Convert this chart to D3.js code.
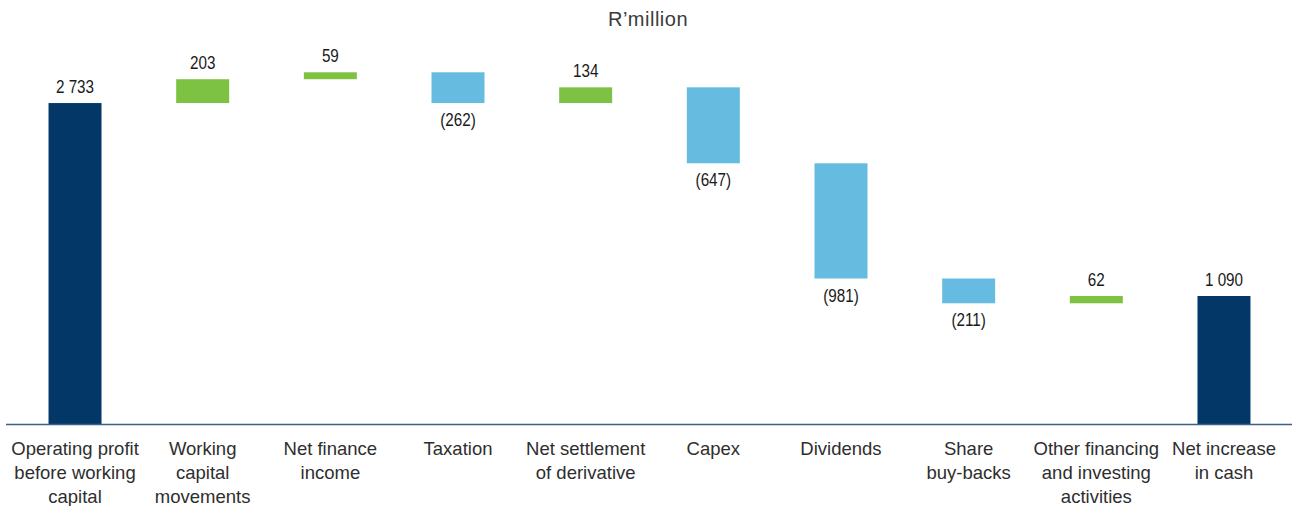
<!DOCTYPE html>
<html>
<head>
<meta charset="utf-8">
<script src="https://cdn.jsdelivr.net/npm/d3@7"></script>
<style>
  body { margin: 0; background: #fff; }
  .val { font-family: "Liberation Sans", Arial, sans-serif; font-size: 17.5px; fill: #1a1a1a; }
  .cat { font-family: "Liberation Sans", Arial, sans-serif; font-size: 18.5px; fill: #2e2e2e; }
</style>
</head>
<body>
<div id="chart"></div>
<script>
// waterfall data, R'million
const categories = [
  ['Operating profit', 'before working', 'capital'],
  ['Working', 'capital', 'movements'],
  ['Net finance', 'income'],
  ['Taxation'],
  ['Net settlement', 'of derivative'],
  ['Capex'],
  ['Dividends'],
  ['Share', 'buy-backs'],
  ['Other financing', 'and investing', 'activities'],
  ['Net increase', 'in cash']
];
const values = [2733, 203, 59, -262, 134, -647, -981, -211, 62, 1090];
const kinds = ['total', 'step', 'step', 'step', 'step', 'step', 'step', 'step', 'step', 'total'];
const valueLabels = ['2 733', '203', '59', '(262)', '134', '(647)', '(981)', '(211)', '62', '1 090'];

const width = 1292;
const height = 506;

const colors = { total: '#033767', up: '#7dc242', down: '#65bce0' };

// running totals
let run = 0;
const bars = values.map((v, i) => {
  let y0, y1, type;
  if (kinds[i] === 'total') {
    y0 = 0; y1 = v; run = v; type = 'total';
  } else {
    y0 = run; y1 = run + v; run = y1; type = v >= 0 ? 'up' : 'down';
  }
  return { i, v, lo: Math.min(y0, y1), hi: Math.max(y0, y1), type };
});

const svg = d3.select('#chart')
  .append('svg')
  .attr('width', width)
  .attr('height', height);

const x = d3.scaleBand()
  .domain(d3.range(categories.length))
  .range([11.5, 1287.5])
  .paddingInner(0.585)
  .paddingOuter(0.29);

const y = d3.scaleLinear()
  .domain([0, 3000])
  .range([424, 71.7]);

svg.append('text')
  .attr('x', 648)
  .attr('y', 26)
  .attr('text-anchor', 'middle')
  .style('font-family', '"Liberation Sans", Arial, sans-serif')
  .style('font-size', '20px')
  .style('fill', '#3a3a3a')
  .style('letter-spacing', '0.5px')
  .text('R\u2019million');

svg.selectAll('rect.bar')
  .data(bars)
  .enter()
  .append('rect')
  .attr('class', 'bar')
  .attr('x', d => x(d.i))
  .attr('width', x.bandwidth())
  .attr('y', d => y(d.hi))
  .attr('height', d => y(d.lo) - y(d.hi))
  .attr('fill', d => colors[d.type]);

// condensed look for the value labels
svg.selectAll('text.val')
  .data(bars)
  .enter()
  .append('text')
  .attr('class', 'val')
  .attr('text-anchor', 'middle')
  .attr('transform', d => {
    const cx = x(d.i) + x.bandwidth() / 2;
    const cy = d.type === 'down' ? y(d.lo) + 23 : y(d.hi) - 10;
    return `translate(${cx}, ${cy}) scale(0.87, 1)`;
  })
  .text(d => valueLabels[d.i]);

svg.append('line')
  .attr('x1', 6)
  .attr('x2', width)
  .attr('y1', 424.5)
  .attr('y2', 424.5)
  .attr('stroke', '#3d6189')
  .attr('stroke-width', 1.3);

const catG = svg.selectAll('g.cat')
  .data(categories)
  .enter()
  .append('g')
  .attr('transform', (d, i) => `translate(${x(i) + x.bandwidth() / 2}, 455)`);

catG.selectAll('text')
  .data(d => d)
  .enter()
  .append('text')
  .attr('class', 'cat')
  .attr('text-anchor', 'middle')
  .attr('y', (d, j) => j * 24)
  .text(d => d);
</script>
</body>
</html>
